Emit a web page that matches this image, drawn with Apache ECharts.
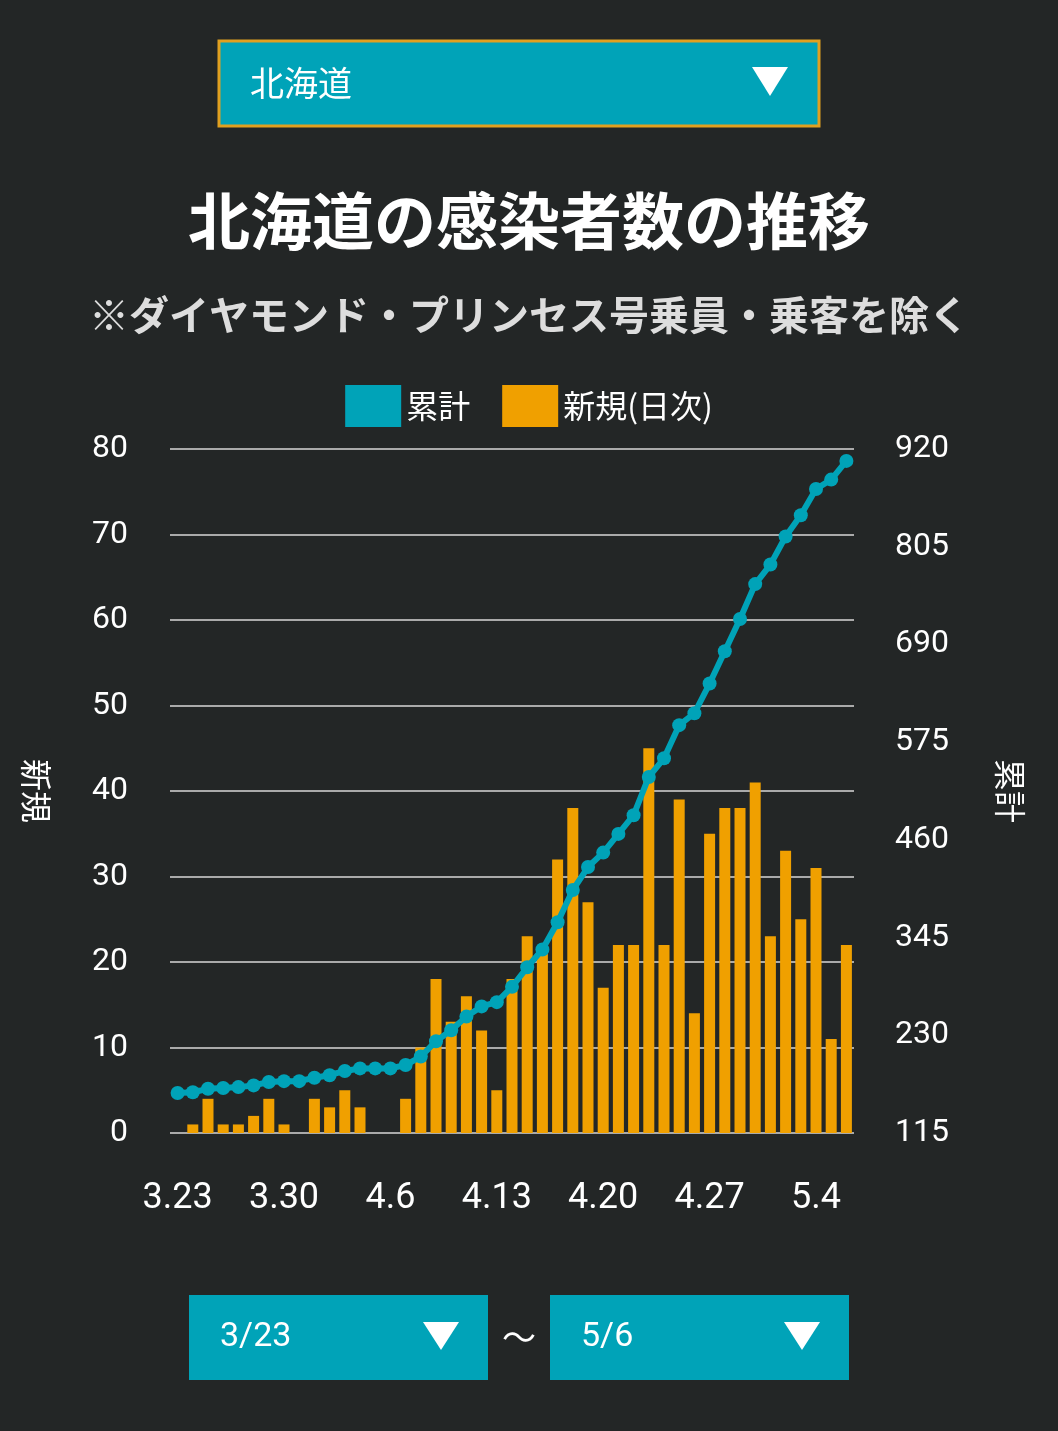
<!DOCTYPE html>
<html>
<head>
<meta charset="utf-8">
<title>北海道の感染者数の推移</title>
<script src="https://cdn.jsdelivr.net/npm/echarts@6/dist/echarts.min.js"></script>
<style>body{margin:0;background:#232626;}</style>
</head>
<body>
<div id="chart" style="width:1058px;height:1431px;"></div>
<script>
var dates = ['3.23','3.24','3.25','3.26','3.27','3.28','3.29','3.30','3.31','4.1','4.2','4.3','4.4','4.5','4.6','4.7','4.8','4.9','4.10','4.11','4.12','4.13','4.14','4.15','4.16','4.17','4.18','4.19','4.20','4.21','4.22','4.23','4.24','4.25','4.26','4.27','4.28','4.29','4.30','5.1','5.2','5.3','5.4','5.5','5.6'];
var newCases = [0,1,4,1,1,2,4,1,0,4,3,5,3,0,0,4,10,18,13,16,12,5,18,23,21,32,38,27,17,22,22,45,22,39,14,35,38,38,41,23,33,25,31,11,22];
var totalCases = [162,163,167,168,169,171,175,176,176,180,183,188,191,191,191,195,205,223,236,252,264,269,287,310,331,363,401,428,445,467,489,534,556,595,609,644,682,720,761,784,817,842,873,884,906];

var font = '"Noto Sans CJK JP", "Noto Sans", sans-serif';
var chart = echarts.init(document.getElementById('chart'));
chart.setOption({
    backgroundColor: '#232626',
    textStyle: {fontFamily: font},
    title: [
        {text: '北海道の感染者数の推移', left: 'center', top: 185, textStyle: {color: '#fff', fontSize: 62, fontWeight: 'bold', fontFamily: font}},
        {text: '※ダイヤモンド・プリンセス号乗員・乗客を除く', left: 'center', top: 290, textStyle: {color: '#ddd', fontSize: 40, fontWeight: 'bold', fontFamily: font}}
    ],
    legend: {
        top: 380, left: 'center', itemWidth: 56, itemHeight: 42, itemGap: 32,
        textStyle: {color: '#fff', fontSize: 32},
        data: [{name: '累計', icon: 'rect'}, {name: '新規(日次)', icon: 'rect'}]
    },
    grid: {left: 170, right: 204, top: 449, bottom: 298},
    xAxis: {
        type: 'category', data: dates,
        axisLine: {show: false}, axisTick: {show: false},
        axisLabel: {color: '#fff', fontSize: 36, interval: 6, margin: 48, fontFamily: 'Roboto'}
    },
    yAxis: [
        {type: 'value', min: 0, max: 80, interval: 10, name: '新規', nameLocation: 'middle', nameGap: 118, nameRotate: 270,
         nameTextStyle: {color: '#fff', fontSize: 32},
         axisLabel: {color: '#fff', fontSize: 32, margin: 42, fontFamily: 'Roboto'},
         splitLine: {lineStyle: {color: '#aaa', width: 2}}},
        {type: 'value', min: 115, max: 920, interval: 115, name: '累計', nameLocation: 'middle', nameGap: 140, nameRotate: 270,
         nameTextStyle: {color: '#fff', fontSize: 32},
         axisLabel: {color: '#fff', fontSize: 32, margin: 41, fontFamily: 'Roboto'},
         splitLine: {show: false}}
    ],
    series: [
        {name: '新規(日次)', type: 'bar', data: newCases, barWidth: 11, itemStyle: {color: '#f0a000'}},
        {name: '累計', type: 'line', yAxisIndex: 1, data: totalCases, symbol: 'circle', symbolSize: 14, showAllSymbol: true,
         lineStyle: {color: '#00a3b8', width: 6}, itemStyle: {color: '#00a3b8'}, z: 5}
    ],
    graphic: [
        {type: 'rect', shape: {x: 219, y: 41, width: 600, height: 85}, style: {fill: '#00a3b8', stroke: '#e0a020', lineWidth: 3}},
        {type: 'text', style: {x: 250, y: 83, text: '北海道', fill: '#fff', font: '34px ' + font, textVerticalAlign: 'middle'}},
        {type: 'polygon', shape: {points: [[752, 67], [788, 67], [770, 96]]}, style: {fill: '#fff'}},
        {type: 'rect', shape: {x: 189, y: 1295, width: 299, height: 85}, style: {fill: '#00a3b8'}},
        {type: 'text', style: {x: 220, y: 1337, text: '3/23', fill: '#fff', font: '34px Roboto', textVerticalAlign: 'middle'}},
        {type: 'polygon', shape: {points: [[423, 1322], [459, 1322], [441, 1350]]}, style: {fill: '#fff'}},
        {type: 'text', style: {x: 519, y: 1337, text: '〜', fill: '#fff', font: '34px ' + font, textAlign: 'center', textVerticalAlign: 'middle'}},
        {type: 'rect', shape: {x: 550, y: 1295, width: 299, height: 85}, style: {fill: '#00a3b8'}},
        {type: 'text', style: {x: 581, y: 1337, text: '5/6', fill: '#fff', font: '34px Roboto', textVerticalAlign: 'middle'}},
        {type: 'polygon', shape: {points: [[784, 1322], [820, 1322], [802, 1350]]}, style: {fill: '#fff'}}
    ]
});
</script>
</body>
</html>
